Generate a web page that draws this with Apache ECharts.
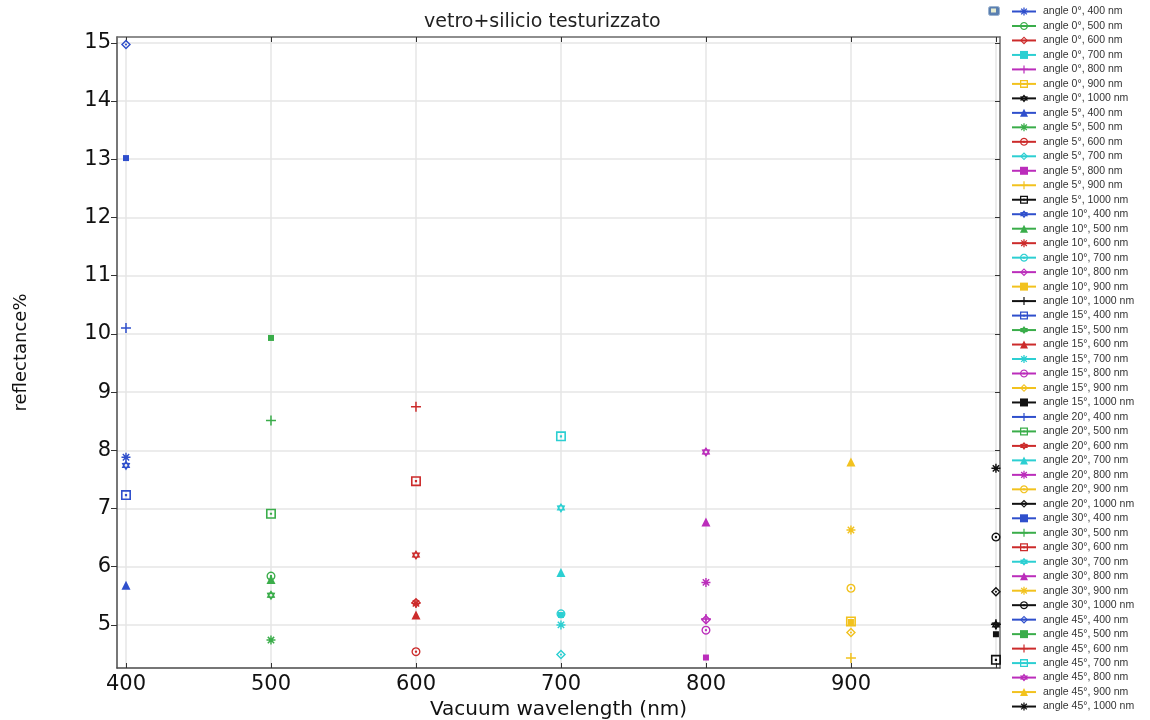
<!DOCTYPE html>
<html>
<head>
<meta charset="utf-8">
<script src="https://cdn.jsdelivr.net/npm/echarts@6/dist/echarts.min.js"></script>
<style>
html,body{margin:0;padding:0;background:#fff;}
#chart{width:1150px;height:720px;}
</style>
</head>
<body>
<div id="chart"></div>
<script>
// ---- data ----
const angles = [0, 5, 10, 15, 20, 30, 45];
const wavelengths = [400, 500, 600, 700, 800, 900, 1000];
const refl_0  = [7.88, 5.84, 5.38, 5.17, 5.10, 5.06, 5.00];
const refl_5  = [5.68, 4.74, 4.54, 4.49, 4.44, 4.43, 4.40];
const refl_10 = [7.74, 5.78, 5.37, 5.19, 5.09, 5.05, 5.01];
const refl_15 = [7.23, 5.51, 5.17, 5.00, 4.91, 4.87, 4.84];
const refl_20 = [10.10, 6.91, 6.20, 5.90, 5.73, 5.63, 5.57];
const refl_30 = [13.02, 8.51, 7.47, 7.01, 6.77, 6.63, 6.51];
const refl_45 = [14.97, 9.93, 8.75, 8.24, 7.97, 7.80, 7.69];
const reflByAngle = [refl_0, refl_5, refl_10, refl_15, refl_20, refl_30, refl_45];
const xTicks = [400, 500, 600, 700, 800, 900, 1000];
const xLabels = [400, 500, 600, 700, 800, 900];
const yTicks = [5, 6, 7, 8, 9, 10, 11, 12, 13, 14, 15];

// ---- styles ----
const wlColors = ['#2f4fcc', '#3aad4a', '#cc2b2b', '#2ccfd2', '#bb2dbb', '#f2c21e', '#111111'];

function polyPts(n, r, cx, cy, rot) {
  const p = [];
  for (let i = 0; i < n; i++) {
    const a = rot + i * 2 * Math.PI / n;
    p.push([cx + r * Math.cos(a), cy + r * Math.sin(a)]);
  }
  return p;
}
function toPath(pts) {
  return 'M' + pts.map(p => p[0].toFixed(2) + ' ' + p[1].toFixed(2)).join(' L') + ' Z ';
}
function ring(n, ro, ri, rd, rot) {
  return toPath(polyPts(n, ro, 10, 10, rot)) +
         toPath(polyPts(n, ri, 10, 10, rot).reverse()) +
         toPath(polyPts(n, rd, 10, 10, rot));
}
function asterisk() {
  let s = '';
  [0, 45, 90, 135].forEach(d => {
    const a = d * Math.PI / 180, c = Math.cos(a), si = Math.sin(a);
    const rect = [[-10, -1.6], [10, -1.6], [10, 1.6], [-10, 1.6]];
    s += toPath(rect.map(p => [10 + p[0] * c - p[1] * si, 10 + p[0] * si + p[1] * c]));
  });
  return s;
}
function hexagram() {
  const p = [];
  for (let i = 0; i < 12; i++) {
    const a = -Math.PI / 2 + i * Math.PI / 6;
    const r = i % 2 === 0 ? 10 : 6.2;
    p.push([10 + r * Math.cos(a), 10 + r * Math.sin(a)]);
  }
  return toPath(p) + toPath(polyPts(10, 2.8, 10, 10, 0).reverse());
}
const markers = {
  asterisk: {symbol: 'path://' + asterisk(), size: 9},
  circle: {symbol: 'path://' + ring(20, 10, 7.0, 2.6, 0), size: 9},
  diamond: {symbol: 'path://' + ring(4, 10, 6.0, 2.6, -Math.PI / 2), size: 10},
  point: {symbol: 'rect', size: 6},
  plus: {symbol: 'path://M8.5 0 H11.5 V8.5 H20 V11.5 H11.5 V20 H8.5 V11.5 H0 V8.5 H8.5 Z', size: 10},
  square: {symbol: 'path://M0 0 H20 V20 H0 Z M3.2 3.2 V16.8 H16.8 V3.2 Z M7.8 7.8 H12.2 V12.2 H7.8 Z', size: 10},
  star: {symbol: 'path://' + hexagram(), size: 10},
  triangle: {symbol: 'triangle', size: 9}
};
const markerCycle = ['asterisk', 'circle', 'diamond', 'point', 'plus', 'square', 'star', 'triangle'];

const series = [];
const legendNames = [];
angles.forEach((ang, ai) => {
  wavelengths.forEach((wl, wi) => {
    const idx = ai * 7 + wi;
    const m = markers[markerCycle[idx % 8]];
    const name = 'angle ' + ang + '°, ' + wl + ' nm';
    legendNames.push(name);
    series.push({
      name: name,
      type: 'line',
      data: [[wl, reflByAngle[ai][wi]]],
      symbol: m.symbol,
      symbolSize: m.size,
      symbolKeepAspect: true,
      showSymbol: true,
      color: wlColors[wi],
      itemStyle: {color: wlColors[wi]},
      lineStyle: {color: wlColors[wi], width: 1},
      emphasis: {disabled: true},
      z: 3
    });
  });
});

const FONT = 'DejaVu Sans';
const frameColor = '#4a4a4a';

const chart = echarts.init(document.getElementById('chart'), null, {renderer: 'canvas'});
chart.setOption({
  animation: false,
  backgroundColor: '#ffffff',
  title: {
    text: 'vetro+silicio testurizzato',
    left: 419, top: 8,
    textStyle: {fontFamily: FONT, fontSize: 19, fontWeight: 'normal', color: '#222'}
  },
  grid: {left: 117, right: 150, top: 37, bottom: 52, containLabel: false, outerBoundsMode: 'none'},
  legend: {
    orient: 'vertical',
    left: 1011, top: 6,
    padding: 0,
    itemWidth: 24, itemHeight: 10, itemGap: 3.48,
    data: legendNames,
    selectedMode: false,
    textStyle: {fontFamily: 'Liberation Sans', fontSize: 10.5, lineHeight: 10, color: '#333', padding: [0, 0, 0, 2]}
  },
  graphic: [{
    type: 'rect', left: 988, top: 6, shape: {width: 11, height: 9, r: 2},
    style: {fill: '#5a7fb0', stroke: '#9bb3d0', lineWidth: 1}
  }, {
    type: 'rect', left: 991, top: 8.5, shape: {width: 5, height: 4},
    style: {fill: '#e6ecd0'}
  }],
  xAxis: [{
    type: 'value', position: 'bottom',
    min: 393.8, max: 1002.8,
    name: 'Vacuum wavelength (nm)', nameLocation: 'middle', nameGap: 31,
    nameTextStyle: {fontFamily: FONT, fontSize: 20, color: '#111'},
    axisLine: {show: true, onZero: false, lineStyle: {color: frameColor, width: 1.5}},
    axisTick: {show: true, inside: true, length: 5, customValues: xTicks, lineStyle: {color: '#333'}},
    axisLabel: {customValues: xLabels, fontFamily: FONT, fontSize: 21, color: '#111', margin: 6},
    splitLine: {show: true, lineStyle: {color: '#e6e6e6', width: 1.5}}
  }, {
    type: 'value', position: 'top',
    min: 393.8, max: 1002.8,
    axisLine: {show: true, onZero: false, lineStyle: {color: '#6a6a6a', width: 1.5}},
    axisTick: {show: true, inside: true, length: 5, customValues: xTicks, lineStyle: {color: '#333'}},
    axisLabel: {show: false},
    splitLine: {show: false}
  }],
  yAxis: [{
    type: 'value', position: 'left',
    min: 4.26, max: 15.1,
    name: 'reflectance%', nameLocation: 'middle', nameGap: 87, nameRotate: 90,
    nameTextStyle: {fontFamily: FONT, fontSize: 18, color: '#111'},
    axisLine: {show: true, onZero: false, lineStyle: {color: frameColor, width: 1.5}},
    axisTick: {show: true, inside: false, length: 6, customValues: yTicks, lineStyle: {color: '#333'}},
    axisLabel: {customValues: yTicks, fontFamily: FONT, fontSize: 21, color: '#111', margin: 6},
    splitLine: {show: true, lineStyle: {color: '#e6e6e6', width: 1.5}}
  }, {
    type: 'value', position: 'right',
    min: 4.26, max: 15.1,
    axisLine: {show: true, onZero: false, lineStyle: {color: '#6a6a6a', width: 1.5}},
    axisTick: {show: true, inside: true, length: 5, customValues: yTicks, lineStyle: {color: '#333'}},
    axisLabel: {show: false},
    splitLine: {show: false}
  }],
  series: series
});
</script>
</body>
</html>
